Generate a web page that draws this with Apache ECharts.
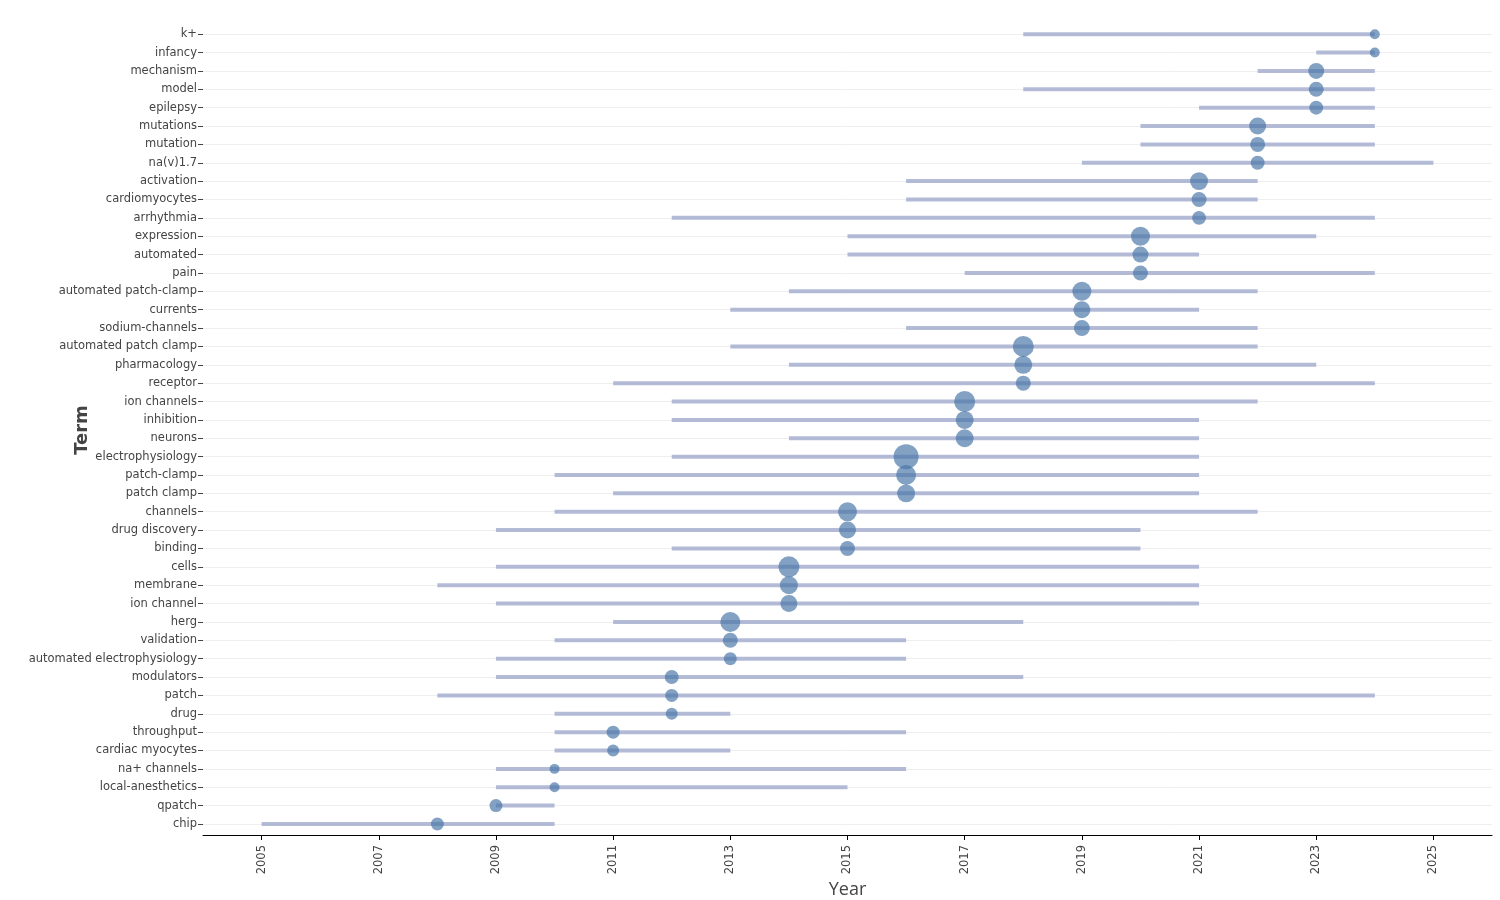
<!DOCTYPE html>
<html>
<head>
<meta charset="utf-8">
<script src="https://cdn.jsdelivr.net/npm/echarts@6/dist/echarts.min.js"></script>
<style>
  html, body { margin: 0; padding: 0; background: #fff; }
  #main { width: 1500px; height: 900px; }
</style>
</head>
<body>
<div id="main"></div>
<script>
  // terms, bottom to top
  const terms = [
    'chip', 'qpatch', 'local-anesthetics', 'na+ channels', 'cardiac myocytes', 'throughput',
    'drug', 'patch', 'modulators', 'automated electrophysiology', 'validation', 'herg',
    'ion channel', 'membrane', 'cells', 'binding', 'drug discovery', 'channels',
    'patch clamp', 'patch-clamp', 'electrophysiology', 'neurons', 'inhibition', 'ion channels',
    'receptor', 'pharmacology', 'automated patch clamp', 'sodium-channels', 'currents',
    'automated patch-clamp', 'pain', 'automated', 'expression', 'arrhythmia', 'cardiomyocytes',
    'activation', 'na(v)1.7', 'mutation', 'mutations', 'epilepsy', 'model', 'mechanism',
    'infancy', 'k+'
  ]
  const yearStart = [
    2005, 2009, 2009, 2009, 2010, 2010,
    2010, 2008, 2009, 2009, 2010, 2011,
    2009, 2008, 2009, 2012, 2009, 2010,
    2011, 2010, 2012, 2014, 2012, 2012,
    2011, 2014, 2013, 2016, 2013,
    2014, 2017, 2015, 2015, 2012, 2016,
    2016, 2019, 2020, 2020, 2021, 2018, 2022,
    2023, 2018
  ]
  const yearEnd = [
    2010, 2010, 2015, 2016, 2013, 2016,
    2013, 2024, 2018, 2016, 2016, 2018,
    2021, 2021, 2021, 2020, 2020, 2022,
    2021, 2021, 2021, 2021, 2021, 2022,
    2024, 2023, 2022, 2022, 2021,
    2022, 2024, 2021, 2023, 2024, 2022,
    2022, 2025, 2024, 2024, 2024, 2024, 2024,
    2024, 2024
  ]
  const yearMedian = [
    2008, 2009, 2010, 2010, 2011, 2011,
    2012, 2012, 2012, 2013, 2013, 2013,
    2014, 2014, 2014, 2015, 2015, 2015,
    2016, 2016, 2016, 2017, 2017, 2017,
    2018, 2018, 2018, 2019, 2019,
    2019, 2020, 2020, 2020, 2021, 2021,
    2021, 2022, 2022, 2022, 2023, 2023, 2023,
    2024, 2024
  ]
  const freq = [
    36, 36, 20, 20, 30, 36,
    30, 36, 42, 36, 49, 90,
    64, 72, 100, 49, 64, 81,
    72, 90, 144, 72, 72, 100,
    49, 72, 100, 56, 64,
    81, 49, 56, 81, 42, 49,
    72, 42, 49, 64, 42, 49, 56,
    20, 20
  ]
  const xTicks = [2005, 2007, 2009, 2011, 2013, 2015, 2017, 2019, 2021, 2023, 2025]
  const yTicks = terms.map((t, i) => i)

  const rangeData = terms.map((t, i) => [yearStart[i], yearEnd[i], i])
  const dotData = terms.map((t, i) => [yearMedian[i], i, freq[i]])

  const chart = echarts.init(document.getElementById('main'))
  chart.setOption({
    animation: false,
    grid: {
      left: 203,
      right: 8,
      top: 25,
      bottom: 65,
      outerBoundsMode: 'none'
    },
    xAxis: {
      type: 'value',
      min: 2004,
      max: 2026,
      name: 'Year',
      nameLocation: 'middle',
      nameGap: 46,
      nameMoveOverlap: false,
      nameTextStyle: {
        color: '#444',
        fontSize: 18,
        fontFamily: 'Open Sans'
      },
      axisLine: {
        show: true,
        onZero: false,
        lineStyle: { color: '#000', width: 1 }
      },
      axisTick: {
        show: true,
        length: 5,
        customValues: xTicks,
        lineStyle: { color: '#000' }
      },
      axisLabel: {
        rotate: 90,
        margin: 10,
        customValues: xTicks,
        formatter: function (v) { return String(v) },
        color: '#444',
        fontSize: 11.5,
        fontFamily: 'DejaVu Sans'
      },
      splitLine: { show: false }
    },
    yAxis: {
      type: 'value',
      min: -0.6,
      max: 43.5,
      name: 'Term',
      nameLocation: 'middle',
      nameRotate: 90,
      nameGap: 112,
      nameMoveOverlap: false,
      nameTextStyle: {
        color: '#444',
        fontSize: 18,
        fontWeight: 'bold',
        fontFamily: 'DejaVu Sans'
      },
      axisLine: { show: false },
      axisTick: {
        show: true,
        length: 5,
        customValues: yTicks,
        lineStyle: { color: '#444' }
      },
      axisLabel: {
        margin: 6,
        customValues: yTicks,
        formatter: function (v) { return terms[Math.round(v)] },
        color: '#444',
        fontSize: 11.5,
        fontFamily: 'DejaVu Sans'
      },
      splitLine: {
        show: true,
        lineStyle: { color: '#eeeeee' }
      }
    },
    series: [
      {
        type: 'custom',
        data: rangeData,
        encode: { x: [0, 1], y: 2 },
        renderItem: function (params, api) {
          const p1 = api.coord([api.value(0), api.value(2)])
          const p2 = api.coord([api.value(1), api.value(2)])
          return {
            type: 'line',
            shape: { x1: p1[0], y1: p1[1], x2: p2[0], y2: p2[1] },
            style: { stroke: 'rgba(160, 170, 205, 0.8)', lineWidth: 4 }
          }
        },
        z: 2
      },
      {
        type: 'scatter',
        data: dotData,
        symbolSize: function (val) {
          return 2 * Math.sqrt(val[2]) + 1
        },
        itemStyle: {
          color: 'rgba(72, 117, 167, 0.85)'
        },
        z: 3
      }
    ]
  })
</script>
</body>
</html>
